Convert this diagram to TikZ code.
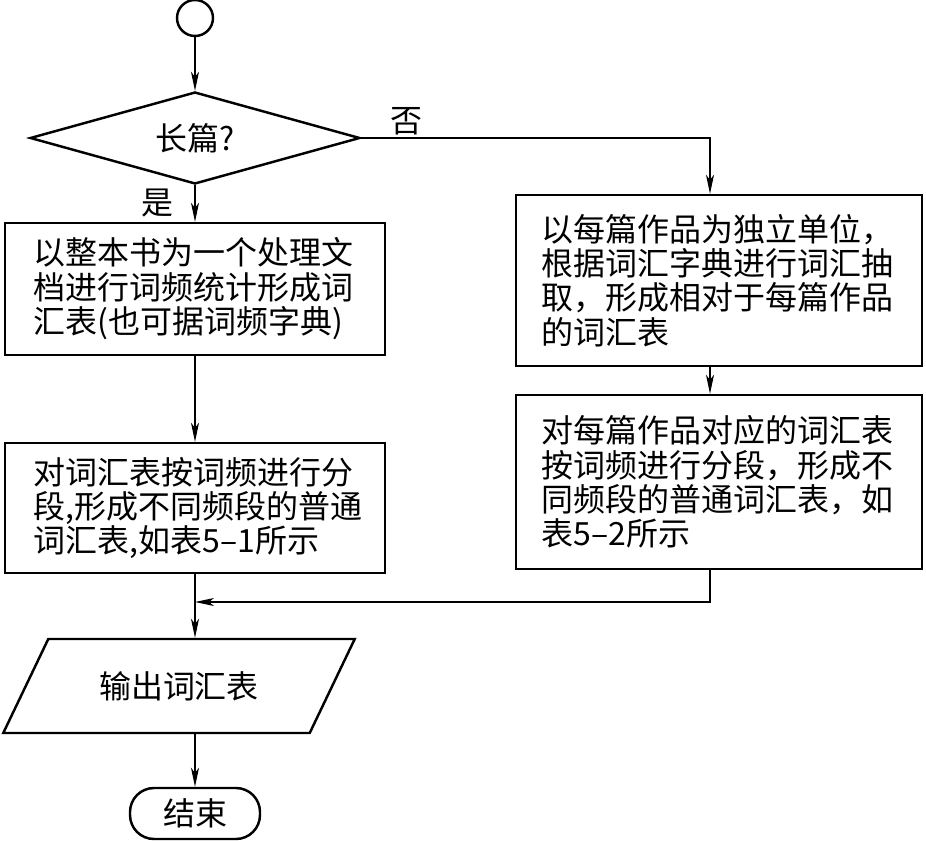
\documentclass[tikz,border=0pt]{standalone}
\usepackage{fontspec}
\setmainfont{Noto Sans CJK SC}
\usetikzlibrary{shapes.geometric,arrows.meta}

\begin{document}
\begin{tikzpicture}[x=0.02cm,y=-0.02cm,
  every node/.style={font=\fontsize{18.2}{19.6}\selectfont},
  box/.style={draw,line width=1.4pt,align=left},
  line/.style={line width=0.6pt},
  >={Stealth[length=0.38cm,width=0.16cm,inset=0.1cm]}]
\useasboundingbox (0,0) rectangle (926,841);
% shapes
\node[draw,line width=1.4pt,circle,minimum size=0.72cm,inner sep=0] (start) at (195,18) {};
\node[draw,line width=1.4pt,diamond,aspect=3.6,minimum width=6.6cm,minimum height=1.84cm,inner sep=0] (dec) at (195,138) {长篇?};
\node[box,text width=6.45cm,minimum width=7.6cm,minimum height=2.64cm] (b1) at (195,289)
  {以整本书为一个处理文\\档进行词频统计形成词\\汇表(也可据词频字典)};
\node[box,text width=6.45cm,minimum width=7.6cm,minimum height=2.6cm] (b2) at (195,508)
  {对词汇表按词频进行分\\段,形成不同频段的普通\\词汇表,如表5–1所示};
\node[box,text width=7.1cm,minimum width=8.12cm,minimum height=3.42cm] (r1) at (719,280.5)
  {以每篇作品为独立单位，\\根据词汇字典进行词汇抽\\取，形成相对于每篇作品\\的词汇表};
\node[box,text width=7.1cm,minimum width=8.12cm,minimum height=3.48cm] (r2) at (719,482)
  {对每篇作品对应的词汇表\\按词频进行分段，形成不\\同频段的普通词汇表，如\\表5–2所示};
\node[draw,line width=1.4pt,trapezium,trapezium left angle=47,trapezium right angle=133,
  trapezium stretches=true,minimum width=7.04cm,minimum height=1.88cm,inner sep=0] (out) at (179,686) {输出词汇表};
\node[draw,line width=1.4pt,rounded corners=0.48cm,minimum width=2.6cm,minimum height=1.02cm] (end) at (195,813.5) {结束};
% labels
\node (yes) at (157,203) {是};
\node (no) at (406,121) {否};
\coordinate (join) at (195,602);
% connectors
\draw[line,->] (start) -- (dec);
\draw[line,->] (dec) -- (b1);
\draw[line,->] (dec.east) -| ([xshift=-0.18cm]r1.north);
\draw[line,->] (b1) -- (b2);
\draw[line,->] ([xshift=-0.18cm]r1.south) -- ([xshift=-0.18cm]r2.north);
\draw[line,->] ([xshift=-0.18cm]r2.south) |- (join);
\draw[line,->] (b2.south) -- (b2.south |- out.north);
\draw[line,->] (end.north |- out.south) -- (end);
\end{tikzpicture}
\end{document}
